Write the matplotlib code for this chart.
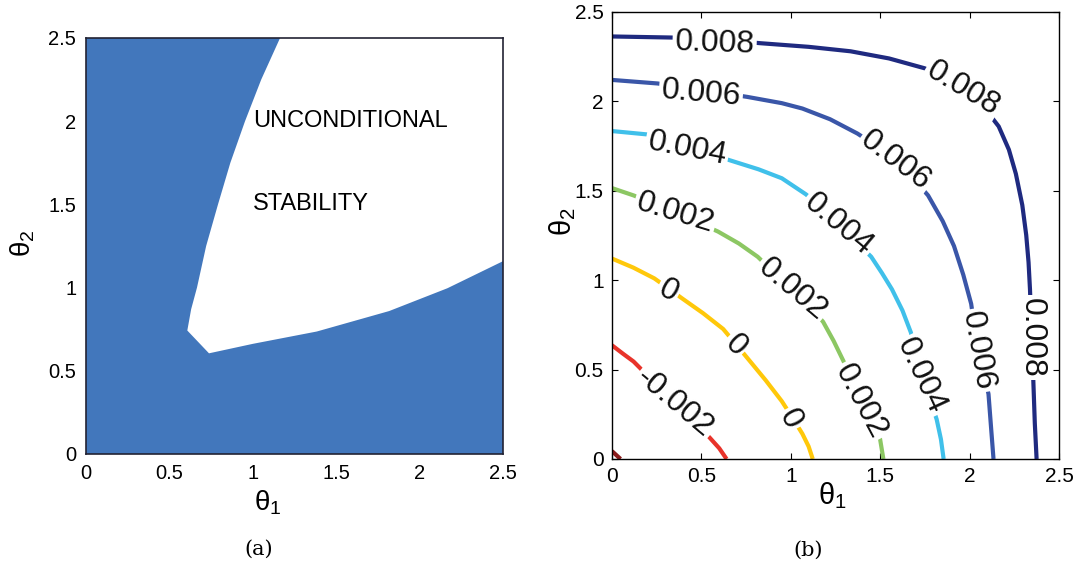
import matplotlib
matplotlib.use('Agg')
import matplotlib.pyplot as plt

plt.rcParams['font.family'] = ['Liberation Sans', 'DejaVu Sans']

# panel (a): boundary of the unstable (blue) region
left_x = [1.163, 1.05, 0.953, 0.865, 0.791, 0.72, 0.665, 0.63, 0.607]
left_y = [2.5, 2.25, 2.0, 1.75, 1.5, 1.25, 1.0, 0.87, 0.742]
low_x = [0.737, 1.0, 1.383, 1.817, 2.166, 2.5]
low_y = [0.605, 0.662, 0.736, 0.859, 0.996, 1.159]

# panel (b): contour lines
levels = ['-0.004', '-0.002', '0', '0.002', '0.004', '0.006', '0.008']
colors = ['#8b1a1a', '#e8332a', '#ffc80a', '#8cc763', '#40c0ea', '#3a56a8', '#1f2a80']
cx = {
    '-0.004': [0, 0.048],
    '-0.002': [0, 0.06, 0.121, 0.24, 0.352, 0.45, 0.545, 0.6, 0.641],
    '0': [0, 0.12, 0.237, 0.314, 0.391, 0.51, 0.622, 0.69, 0.757, 0.86, 0.95, 1.01,
          1.065, 1.1, 1.123],
    '0.002': [0, 0.121, 0.352, 0.593, 0.71, 0.815, 0.91, 1.007, 1.10, 1.181, 1.24,
              1.296, 1.392, 1.45, 1.498, 1.518],
    '0.004': [0, 0.198, 0.42, 0.661, 0.82, 0.95, 1.085, 1.18, 1.267, 1.36, 1.45, 1.51,
              1.566, 1.625, 1.672, 1.729, 1.78, 1.816, 1.84, 1.855],
    '0.006': [0, 0.256, 0.497, 0.757, 0.95, 1.065, 1.22, 1.373, 1.48, 1.585, 1.68,
              1.768, 1.85, 1.913, 1.965, 2.009, 2.047, 2.08, 2.106, 2.12, 2.134],
    '0.008': [0, 0.333, 0.6, 0.834, 1.1, 1.335, 1.55, 1.749, 1.87, 1.961, 2.07, 2.163,
              2.22, 2.259, 2.295, 2.317, 2.33, 2.338, 2.348, 2.358, 2.365, 2.375],
}
cy = {
    '-0.004': [0.044, 0],
    '-0.002': [0.636, 0.59, 0.545, 0.425, 0.313, 0.215, 0.121, 0.06, 0],
    '0': [1.121, 1.07, 1.01, 0.955, 0.899, 0.815, 0.727, 0.646, 0.565, 0.44, 0.323,
          0.23, 0.141, 0.07, 0],
    '0.002': [1.515, 1.474, 1.38, 1.272, 1.205, 1.131, 1.04, 0.949, 0.86, 0.767, 0.66,
              0.545, 0.323, 0.22, 0.121, 0],
    '0.004': [1.834, 1.815, 1.745, 1.67, 1.62, 1.57, 1.48, 1.40, 1.313, 1.22, 1.131,
              1.04, 0.949, 0.83, 0.707, 0.464, 0.33, 0.222, 0.11, 0],
    '0.006': [2.12, 2.1, 2.065, 2.025, 1.99, 1.96, 1.9, 1.82, 1.75, 1.666, 1.575,
              1.474, 1.33, 1.191, 1.03, 0.868, 0.606, 0.48, 0.363, 0.18, 0],
    '0.008': [2.363, 2.357, 2.345, 2.325, 2.305, 2.28, 2.24, 2.185, 2.13, 2.07, 1.98,
              1.86, 1.73, 1.595, 1.42, 1.252, 1.1, 0.949, 0.68, 0.4, 0.2, 0],
}
# inline labels: level, x, y, rotation
labels = [
    ('0.008', 0.574, 2.326, -2), ('0.008', 1.961, 2.070, -31), ('0.008', 2.349, 0.68, -90),
    ('0.006', 0.497, 2.044, -5), ('0.006', 1.585, 1.666, -37), ('0.006', 2.047, 0.606, -80),
    ('0.004', 0.420, 1.737, -11), ('0.004', 1.267, 1.313, -40), ('0.004', 1.729, 0.464, -65),
    ('0.002', 0.352, 1.373, -17), ('0.002', 1.007, 0.949, -40), ('0.002', 1.392, 0.323, -62),
    ('0', 0.314, 0.939, -28), ('0', 0.690, 0.636, -45), ('0', 0.998, 0.222, -62),
    ('-0.002', 0.352, 0.313, -40),
]
ticks = [0, 0.5, 1, 1.5, 2, 2.5]
ticklabels = ['0', '0.5', '1', '1.5', '2', '2.5']

fig = plt.figure(figsize=(10.81, 5.67), dpi=100)

# ---- (a)
ax1 = fig.add_axes([0.0796, 0.1993, 0.3858, 0.7337])
px = [0, 0] + left_x + low_x + [2.5]
py = [0, 2.5] + left_y + low_y + [0]
ax1.fill(px, py, color='#4277bc', lw=0)
ax1.set_xlim(0, 2.5)
ax1.set_ylim(0, 2.5)
ax1.set_xticks(ticks, ticklabels)
ax1.set_yticks(ticks, ticklabels)
ax1.tick_params(length=0, labelsize=14.5, pad=7)
for s in ax1.spines.values():
    s.set_color('#222233')
    s.set_linewidth(1.2)
ax1.text(1.0, 2.0, 'UNCONDITIONAL', fontsize=17, va='center', ha='left')
ax1.text(1.0, 1.5, 'STABILITY', fontsize=17, va='center', ha='left')
ax1.set_xlabel(r'$\mathregular{θ_1}$', fontsize=20)
ax1.set_ylabel(r'$\mathregular{θ_2}$', fontsize=20)
ax1.xaxis.set_label_coords(0.436, -0.082)
ax1.yaxis.set_label_coords(-0.117, 0.507)

# ---- (b)
ax2 = fig.add_axes([0.5661, 0.1905, 0.4135, 0.7884])
for lev, col in zip(levels, colors):
    ax2.plot(cx[lev], cy[lev], color=col, lw=3, solid_capstyle='butt',
             solid_joinstyle='round')
for lev, x, y, rot in labels:
    ax2.text(x, y, lev, fontsize=23, rotation=rot, ha='center', va='center',
             rotation_mode='anchor', color='#111111',
             bbox=dict(facecolor='white', edgecolor='none', pad=1.5))
ax2.set_xlim(0, 2.5)
ax2.set_ylim(0, 2.5)
ax2.set_xticks(ticks, ticklabels)
ax2.set_yticks(ticks, ticklabels)
ax2.tick_params(direction='in', top=True, right=True, length=4, width=0.8,
                labelsize=15, pad=6)
for s in ax2.spines.values():
    s.set_linewidth(1.0)
ax2.set_xlabel(r'$\mathregular{θ_1}$', fontsize=21)
ax2.set_ylabel(r'$\mathregular{θ_2}$', fontsize=21)
ax2.xaxis.set_label_coords(0.494, -0.047)
ax2.yaxis.set_label_coords(-0.076, 0.53)

fig.text(0.2396, 0.032, '(a)', fontsize=15, family='DejaVu Serif', ha='center', va='center')
fig.text(0.7475, 0.029, '(b)', fontsize=15, family='DejaVu Serif', ha='center', va='center')

fig.savefig('out.png', dpi=100)
